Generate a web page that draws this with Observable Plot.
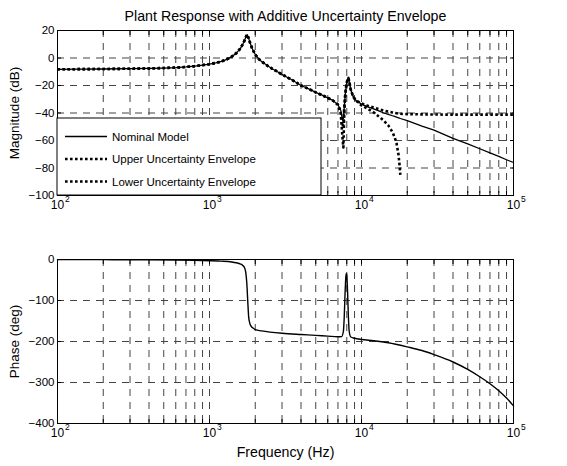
<!DOCTYPE html>
<html><head><meta charset="utf-8">
<script src="https://cdn.jsdelivr.net/npm/d3@7"></script>
<script src="https://cdn.jsdelivr.net/npm/@observablehq/plot@0.6"></script>
<style>
body{margin:0;background:#fff;}
#chart{width:567px;height:466px;overflow:hidden;background:#fff;}
#chart svg{display:block;}
</style></head><body><div id="chart"></div>
<script>
const title = "Plant Response with Additive Uncertainty Envelope";
const magLabel = "Magnitude (dB)";
const phaseLabel = "Phase (deg)";
const freqLabel = "Frequency (Hz)";
const legendLabels = ["Nominal Model", "Upper Uncertainty Envelope", "Lower Uncertainty Envelope"];

const freqMag = [100,150,200,300,400,500,600,700,800,900,1000,1100,1200,1300,1400,1500,1600,1680,1740,1770,1800,1850,1900,2000,2100,2200,2400,2600,2800,3000,3500,4000,4500,5000,5500,6000,6500,7000,7300,7500,7600,7700,7800,7900,8000,8100,8200,8300,8500,8800,9200,10000,11000,12000,13000,14000,15000,16000,16500,17000,17500,17800,18000,20000,25000,30000,40000,50000,60000,70000,80000,90000,100000];
const magNominal = [-8.2,-8.1,-8.0,-7.8,-7.6,-7.3,-7.0,-6.5,-5.9,-5.2,-4.5,-3.6,-2.5,-1.0,1.0,3.5,7.0,11.5,15.5,17.0,15.0,11.0,7.5,2.5,-0.5,-2.5,-5.5,-8.0,-10.0,-12.0,-16.0,-20.0,-22.5,-25.0,-27.0,-29.0,-31.0,-34.0,-38.0,-45.0,-44.0,-36.0,-28.0,-22.0,-18.0,-15.5,-14.5,-17.0,-23.0,-28.0,-31.0,-33.5,-35.5,-37.0,-38.5,-40.0,-41.0,-42.0,-42.5,-43.0,-43.5,-43.8,-44.0,-45.5,-49.5,-52.5,-58.5,-62.5,-66.0,-69.0,-71.5,-74.0,-76.0];
const magUpper = [-8.2,-8.1,-8.0,-7.8,-7.6,-7.3,-7.0,-6.5,-5.9,-5.2,-4.5,-3.6,-2.5,-1.0,1.0,3.5,7.0,11.5,15.5,17.0,15.0,11.0,7.5,2.5,-0.5,-2.5,-5.5,-8.0,-10.0,-12.0,-16.0,-20.0,-22.5,-25.0,-27.0,-29.0,-31.0,-34.0,-39.0,-50.0,-48.0,-36.0,-28.0,-22.0,-18.0,-15.5,-14.5,-17.0,-23.0,-28.0,-31.0,-33.0,-34.8,-36.0,-37.2,-38.2,-39.0,-39.6,-39.9,-40.2,-40.4,-40.5,-40.6,-40.8,-41.0,-41.1,-41.2,-41.2,-41.2,-41.2,-41.2,-41.2,-41.2];
const magLower = [-8.2,-8.1,-8.0,-7.8,-7.6,-7.3,-7.0,-6.5,-5.9,-5.2,-4.5,-3.6,-2.5,-1.0,1.0,3.5,7.0,11.5,15.5,17.0,15.0,11.0,7.5,2.5,-0.5,-2.5,-5.5,-8.0,-10.0,-12.0,-16.0,-20.0,-22.5,-25.0,-27.0,-29.0,-31.0,-34.0,-40.0,-58.0,-65.0,-40.0,-28.0,-22.0,-18.0,-15.5,-14.5,-17.0,-23.0,-28.0,-31.0,-34.5,-37.0,-39.5,-42.5,-45.5,-49.0,-54.0,-57.5,-62.0,-70.0,-78.0,-85.0,null,null,null,null,null,null,null,null,null,null];

const freqPhase = [100,200,400,600,800,1000,1200,1400,1500,1600,1650,1700,1730,1760,1790,1810,1840,1880,1930,2000,2200,2500,3000,4000,5000,6000,7000,7400,7600,7700,7800,7900,7950,8000,8100,8200,8300,8500,9000,10000,12000,15000,20000,25000,30000,40000,50000,60000,70000,80000,90000,100000];
const phaseNominal = [-0.2,-0.4,-0.8,-1.5,-2.2,-3,-4,-6,-8,-11,-14,-20,-30,-58,-110,-140,-155,-163,-167,-171,-174,-177,-180,-183,-185,-187,-188.5,-188,-175,-140,-80,-40,-34,-38,-80,-140,-175,-189,-192,-195,-198,-203,-213,-222,-232,-250,-268,-286,-303,-320,-338,-357];

const magTicks = [20,0,-20,-40,-60,-80,-100];
const phaseTicks = [0,-100,-200,-300,-400];
const decades = [100,1000,10000,100000];
const decadeExps = ["2","3","4","5"];
const gridFreqs = [200,300,400,500,600,700,800,900,1000,2000,3000,4000,5000,6000,7000,8000,9000,10000,20000,30000,40000,50000,60000,70000,80000,90000];

const FONT = "'Liberation Sans', Arial, Helvetica, sans-serif";
const GRID = {stroke: "#444", strokeWidth: 1, strokeDasharray: "7,6"};

const magRows = freqMag.map((f, i) => ({f, nominal: magNominal[i], upper: magUpper[i], lower: magLower[i]}));
const phaseRows = freqPhase.map((f, i) => ({f, phase: phaseNominal[i]}));

function xDecor() {
  return [
    Plot.ruleX(gridFreqs, GRID),
    Plot.axisX({anchor: "bottom", ticks: gridFreqs, tickSize: -4, tickFormat: () => "", label: null, stroke: "black"}),
    Plot.axisX({anchor: "top", ticks: gridFreqs, tickSize: -4, tickFormat: () => "", label: null, stroke: "black"}),
    Plot.text(decades, {x: d => d, text: () => "10", frameAnchor: "bottom", dy: 13, textAnchor: "middle", fontSize: 12, fill: "black"}),
    Plot.text(decades, {x: d => d, text: (d, i) => decadeExps[i], frameAnchor: "bottom", dx: 7.5, dy: 6, textAnchor: "start", fontSize: 8.5, fill: "black"})
  ];
}

function yDecor(ticks, label) {
  return [
    Plot.ruleY(ticks.slice(1, -1), GRID),
    Plot.axisY({anchor: "left", ticks, tickSize: 0, tickPadding: 3, fontSize: 11.5, label: null}),
    Plot.axisY({anchor: "left", ticks, tickSize: -4, tickFormat: () => "", label: null}),
    Plot.axisY({anchor: "right", ticks, tickSize: -4, tickFormat: () => "", label: null}),
    Plot.text([label], {text: d => d, frameAnchor: "left", dx: -43, rotate: -90, textAnchor: "middle", lineAnchor: "middle", fontSize: 13.5, fill: "black"})
  ];
}

const magPlot = Plot.plot({
  width: 567, height: 230,
  marginTop: 30, marginBottom: 35, marginLeft: 57, marginRight: 54,
  style: {fontFamily: FONT, fontSize: "11px", color: "black", background: "white", overflow: "visible"},
  x: {type: "log", domain: [100, 100000]},
  y: {domain: [-100, 20]},
  marks: [
    ...xDecor(),
    ...yDecor(magTicks, magLabel),
    Plot.line(magRows, {x: "f", y: "nominal", stroke: "black", strokeWidth: 1.3}),
    Plot.line(magRows, {x: "f", y: "upper", stroke: "black", strokeWidth: 2.6, strokeDasharray: "2.6,2.4", strokeLinecap: "butt"}),
    Plot.line(magRows, {x: "f", y: "lower", stroke: "black", strokeWidth: 2.6, strokeDasharray: "2.6,2.4", strokeLinecap: "butt"}),
    Plot.frame({stroke: "black", strokeWidth: 1}),
    Plot.text([title], {text: d => d, frameAnchor: "top", dy: -14, textAnchor: "middle", lineAnchor: "middle", fontSize: 14.2, fill: "black"})
  ]
});

// legend box (lower left of magnitude panel)
{
  const L = 57, B = 195, W = 264, H = 77;
  const g = d3.select(magPlot).append("g")
    .attr("font-family", FONT).attr("font-size", 11.5).attr("text-anchor", "start");
  g.append("rect").attr("x", L).attr("y", B - H).attr("width", W).attr("height", H)
    .attr("fill", "white").attr("stroke", "black").attr("stroke-width", 1);
  const rowsY = [B - H + 18.5, B - H + 41, B - H + 63.5];
  const styles = [
    {w: 1.3, dash: null},
    {w: 2.6, dash: "2.6,2.4"},
    {w: 2.6, dash: "2.6,2.4"}
  ];
  legendLabels.forEach((lab, i) => {
    const ln = g.append("line").attr("x1", L + 8).attr("x2", L + 50).attr("y1", rowsY[i]).attr("y2", rowsY[i])
      .attr("stroke", "black").attr("stroke-width", styles[i].w);
    if (styles[i].dash) ln.attr("stroke-dasharray", styles[i].dash);
    g.append("text").attr("x", L + 55).attr("y", rowsY[i]).attr("dy", "0.35em")
      .attr("text-anchor", "start").attr("fill", "black").text(lab);
  });
}

const phasePlot = Plot.plot({
  width: 567, height: 236,
  marginTop: 29, marginBottom: 43, marginLeft: 57, marginRight: 54,
  style: {fontFamily: FONT, fontSize: "11px", color: "black", background: "white", overflow: "visible"},
  x: {type: "log", domain: [100, 100000]},
  y: {domain: [-400, 0]},
  marks: [
    ...xDecor(),
    ...yDecor(phaseTicks, phaseLabel),
    Plot.line(phaseRows, {x: "f", y: "phase", stroke: "black", strokeWidth: 1.4, curve: "monotone-x"}),
    Plot.frame({stroke: "black", strokeWidth: 1}),
    Plot.text([freqLabel], {text: d => d, frameAnchor: "bottom", dy: 29, textAnchor: "middle", lineAnchor: "middle", fontSize: 14.2, fill: "black"})
  ]
});

document.getElementById("chart").append(magPlot, phasePlot);
</script>
</body></html>
